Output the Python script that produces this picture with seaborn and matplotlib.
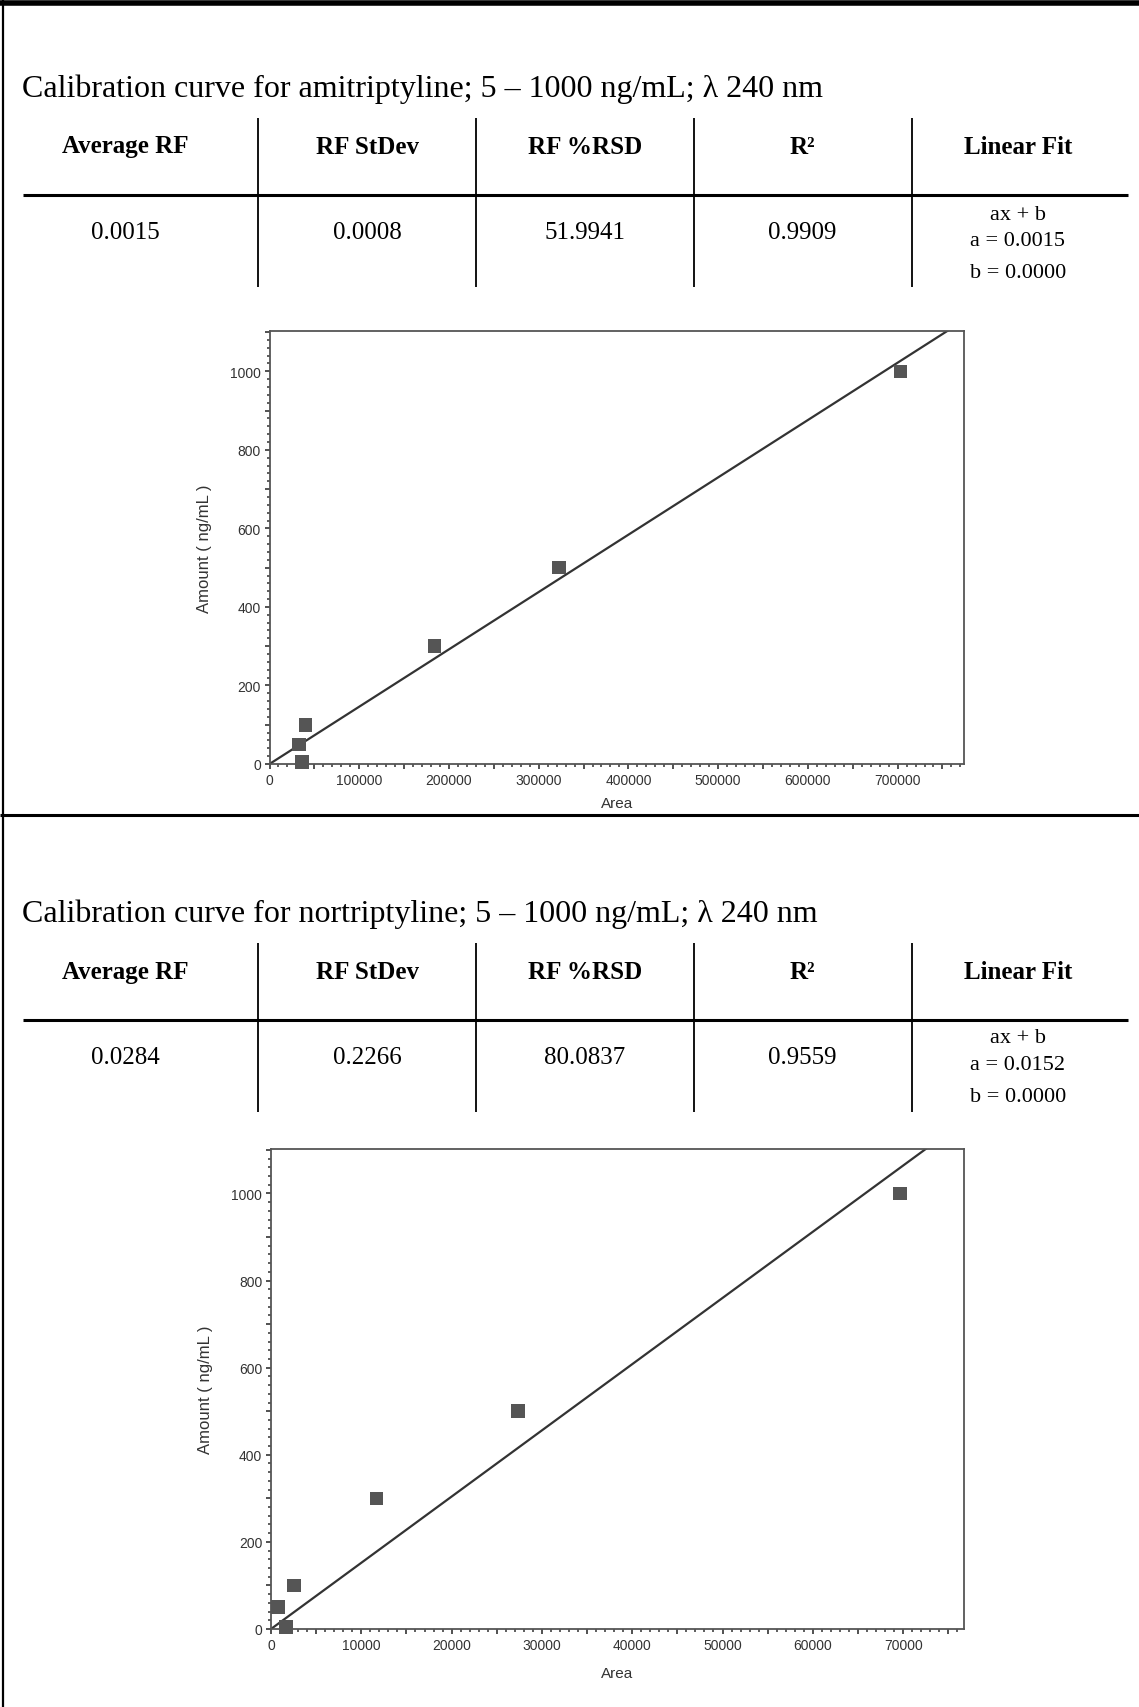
import matplotlib
matplotlib.use("Agg")
import matplotlib.pyplot as plt
import seaborn as sns
import numpy as np
import pandas as pd
from matplotlib.ticker import MultipleLocator, FuncFormatter

# ---------------- data ----------------
amounts = [5, 50, 100, 300, 500, 1000]
ami_area = [36100, 32800, 40200, 184000, 322500, 703000]
nor_area = [1680, 800, 2530, 11700, 27330, 69650]
ami_fit_slope = 0.00146
nor_fit_slope = 0.0152

titles = ["Calibration curve for amitriptyline; 5 \u2013 1000 ng/mL; \u03bb 240 nm",
          "Calibration curve for nortriptyline; 5 \u2013 1000 ng/mL; \u03bb 240 nm"]
headers = ["Average RF", "RF StDev", "RF %RSD", "R\u00b2", "Linear Fit"]
ami_stats = ["0.0015", "0.0008", "51.9941", "0.9909"]
nor_stats = ["0.0284", "0.2266", "80.0837", "0.9559"]
ami_fit_text = ["ax + b", "a = 0.0015", "b = 0.0000"]
nor_fit_text = ["ax + b", "a = 0.0152", "b = 0.0000"]

# ---------------- style ----------------
sns.set_theme(style="white")
plt.rcParams["font.family"] = ["Liberation Sans", "DejaVu Sans"]
SERIF = ["Liberation Serif", "DejaVu Serif"]

W, H = 1139, 1708
fig = plt.figure(figsize=(W / 100, H / 100), dpi=100)
fig.patch.set_facecolor("white")

bg = fig.add_axes([0, 0, 1, 1], zorder=0)
bg.set_xlim(0, W)
bg.set_ylim(H, 0)
bg.axis("off")

# page borders
bg.plot([0, W], [4, 4], color="black", lw=4.0, solid_capstyle="butt")
bg.plot([3, 3], [0, H], color="black", lw=1.6, solid_capstyle="butt")
bg.plot([0, W], [816, 816], color="black", lw=2.2, solid_capstyle="butt")

col_centers = [125, 367, 585, 802, 1018]
col_lines = [258, 476, 694, 912]


def draw_block(title, stats, fit_text, y_title, y_top, y_head, y_hline, y_body, y_fit, y_bottom):
    bg.text(22, y_title, title, family=SERIF, fontsize=23, ha="left", va="center", color="black")
    for x in col_lines:
        bg.plot([x, x], [y_top, y_bottom], color="black", lw=1.3, solid_capstyle="butt")
    bg.plot([23, 1128], [y_hline, y_hline], color="black", lw=2.2, solid_capstyle="butt")
    for cx, h in zip(col_centers, headers):
        bg.text(cx, y_head, h, family=SERIF, fontsize=18, fontweight="bold",
                ha="center", va="center", color="black")
    for cx, v in zip(col_centers[:4], stats):
        bg.text(cx, y_body, v, family=SERIF, fontsize=18, ha="center", va="center", color="black")
    for yy, t in zip(y_fit, fit_text):
        bg.text(col_centers[4], yy, t, family=SERIF, fontsize=16, ha="center", va="center", color="black")


draw_block(titles[0], ami_stats, ami_fit_text, 89, 119, 147, 196, 233, [215, 241, 273], 288)
draw_block(titles[1], nor_stats, nor_fit_text, 914, 944, 973, 1021, 1058, [1039, 1066, 1098], 1113)


def make_plot(rect, area, slope, xmax, xmajor, xlabel_step, xminor, xlabelpad):
    ax = fig.add_axes(rect, zorder=2)
    ax.set_facecolor("none")
    df = pd.DataFrame({"Area": area, "Amount": amounts})
    fit = pd.DataFrame({"Area": [0, xmax], "Amount": [0, slope * xmax]})
    sns.lineplot(data=fit, x="Area", y="Amount", ax=ax, color="#333333", lw=1.6)
    sns.scatterplot(data=df, x="Area", y="Amount", ax=ax, marker="s", s=95,
                    color="#555555", edgecolor="none", linewidth=0, clip_on=False, zorder=3)
    ax.set_xlim(0, xmax)
    ax.set_ylim(0, 1102)
    for sp in ax.spines.values():
        sp.set_color("#555555")
        sp.set_linewidth(1.3)
        sp.set_visible(True)
    ax.xaxis.set_major_locator(MultipleLocator(xmajor))
    ax.xaxis.set_minor_locator(MultipleLocator(xminor))
    ax.xaxis.set_major_formatter(FuncFormatter(
        lambda v, p: f"{int(round(v))}" if round(v) % xlabel_step == 0 else ""))
    ax.yaxis.set_major_locator(MultipleLocator(100))
    ax.yaxis.set_minor_locator(MultipleLocator(20))
    ax.yaxis.set_major_formatter(FuncFormatter(
        lambda v, p: f"{int(round(v))}" if round(v) % 200 == 0 else ""))
    ax.tick_params(axis="both", which="major", direction="out", length=3.8, width=1.2,
                   color="#333333", labelsize=10, labelcolor="#333333", pad=2.5,
                   bottom=True, left=True, top=False, right=False)
    ax.tick_params(axis="both", which="minor", direction="out", length=2.2, width=1.1,
                   color="#333333", bottom=True, left=True, top=False, right=False)
    ax.set_xlabel("Area", fontsize=11, color="#333333", labelpad=xlabelpad)
    ax.set_ylabel("Amount ( ng/mL )", fontsize=12, color="#333333", labelpad=13)
    ax.grid(False)
    return ax


make_plot([269.5 / W, 1 - 765 / H, (964 - 269.5) / W, (765 - 332.3) / H],
          ami_area, ami_fit_slope, 774000, 50000, 100000, 10000, 7)
make_plot([271 / W, 1 - 1630 / H, (964 - 271) / W, (1630 - 1150) / H],
          nor_area, nor_fit_slope, 76740, 5000, 10000, 1000, 10)

fig.savefig("out.png", dpi=100, facecolor="white")
